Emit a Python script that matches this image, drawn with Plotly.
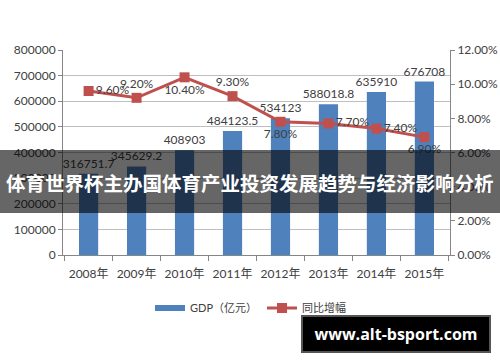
import plotly.graph_objects as go

years = ["2008年", "2009年", "2010年", "2011年", "2012年", "2013年", "2014年", "2015年"]
gdp = [316751.7, 345629.2, 408903, 484123.5, 534123, 588018.8, 635910, 676708]
gdp_labels = ["316751.7", "345629.2", "408903", "484123.5", "534123", "588018.8", "635910", "676708"]
growth = [0.096, 0.092, 0.104, 0.093, 0.078, 0.077, 0.074, 0.069]
growth_pos = ["middle right", "top center", "bottom center", "top center",
              "bottom center", "middle right", "middle right", "bottom center"]

title_text = "体育世界杯主办国体育产业投资发展趋势与经济影响分析"
watermark = "www.alt-bsport.com"

FONT = "Lato, 'Noto Sans CJK SC', sans-serif"
TXT = "#404040"
BLUE = "#4F81BD"
RED = "#C0504D"

L, R, T, B = 63, 50, 50, 107
W, H = 500, 362
PW, PH = W - L - R, H - T - B


def px(x):
    return (x - L) / PW


def py(y):
    return (H - B - y) / PH


fig = go.Figure()
fig.add_trace(go.Bar(
    x=years, y=gdp, name="GDP（亿元）", showlegend=False, legendgroup="gdp",
    marker=dict(color=BLUE, line=dict(width=0)),
    text=gdp_labels, textposition="outside", cliponaxis=False,
    constraintext="none",
    textfont=dict(size=12, color=TXT, family=FONT),
))
# legend entry for bars (wide flat swatch like the original)
fig.add_trace(go.Scatter(
    x=[None], y=[None], name="GDP（亿元）", legendgroup="gdp",
    mode="lines", line=dict(color=BLUE, width=6),
))
fig.add_trace(go.Scatter(
    x=years, y=growth, name="同比增幅", yaxis="y2",
    mode="lines+markers+text",
    line=dict(color=RED, width=3),
    marker=dict(symbol="square", size=10, color=RED),
    text=[f"{v*100:.2f}%" for v in growth], textposition=growth_pos,
    textfont=dict(size=12, color=TXT, family=FONT), cliponaxis=False,
))

fig.update_layout(
    width=W, height=H,
    margin=dict(l=L, r=R, t=T, b=B, autoexpand=False),
    paper_bgcolor="white", plot_bgcolor="white",
    font=dict(family=FONT, color=TXT, size=12),
    bargap=0.6,
    showlegend=True,
    legend=dict(orientation="h", x=px(150), y=py(308), xanchor="left", yanchor="middle",
                font=dict(size=11, color=TXT, family=FONT), bgcolor="rgba(0,0,0,0)",
                itemwidth=30, tracegroupgap=0),
    xaxis=dict(type="category", showline=True, linecolor="#868686", linewidth=1,
               ticks="outside", tickson="boundaries", ticklen=5, tickcolor="#868686",
               showgrid=False, tickangle=0, automargin=False, ticklabelstandoff=8,
               tickfont=dict(size=12, color=TXT)),
    yaxis=dict(range=[0, 800000], dtick=100000, showgrid=True, gridcolor="#BFBFBF",
               gridwidth=1, showline=True, linecolor="#868686", ticks="outside",
               ticklen=4, tickcolor="#868686", tickfont=dict(size=12, color=TXT),
               zeroline=False, tickformat="d", automargin=False),
    yaxis2=dict(range=[0, 0.12], dtick=0.02, overlaying="y", side="right",
                tickformat=".2%", showgrid=False, showline=True, linecolor="#868686",
                ticks="outside", ticklen=4, tickcolor="#868686", automargin=False,
                tickfont=dict(size=12, color=TXT), zeroline=False),
)

# dark banner
fig.add_shape(type="rect", xref="paper", yref="paper", x0=px(0), x1=px(500),
              y0=py(213), y1=py(150), fillcolor="rgba(0,0,0,0.6)",
              line=dict(width=0), layer="above")
fig.add_annotation(xref="paper", yref="paper", x=px(250), y=py(182),
                   text=f"<b>{title_text}</b>", showarrow=False,
                   font=dict(family="'Noto Sans CJK SC'", size=19.5, color="white"))

# watermark box (annotation with its own background)
fig.add_annotation(xref="paper", yref="paper", x=px(301), y=py(315),
                   xanchor="left", yanchor="top",
                   width=186, height=34, align="center", valign="middle",
                   bgcolor="black", bordercolor="#555555", borderwidth=2, borderpad=0,
                   text=f"<b>{watermark}</b>", showarrow=False,
                   font=dict(family="'Open Sans', sans-serif", size=16, color="white"))

fig.write_html("out.html", config={"displayModeBar": False},
               post_script="document.body.style.margin='0';document.body.style.overflow='hidden';")
